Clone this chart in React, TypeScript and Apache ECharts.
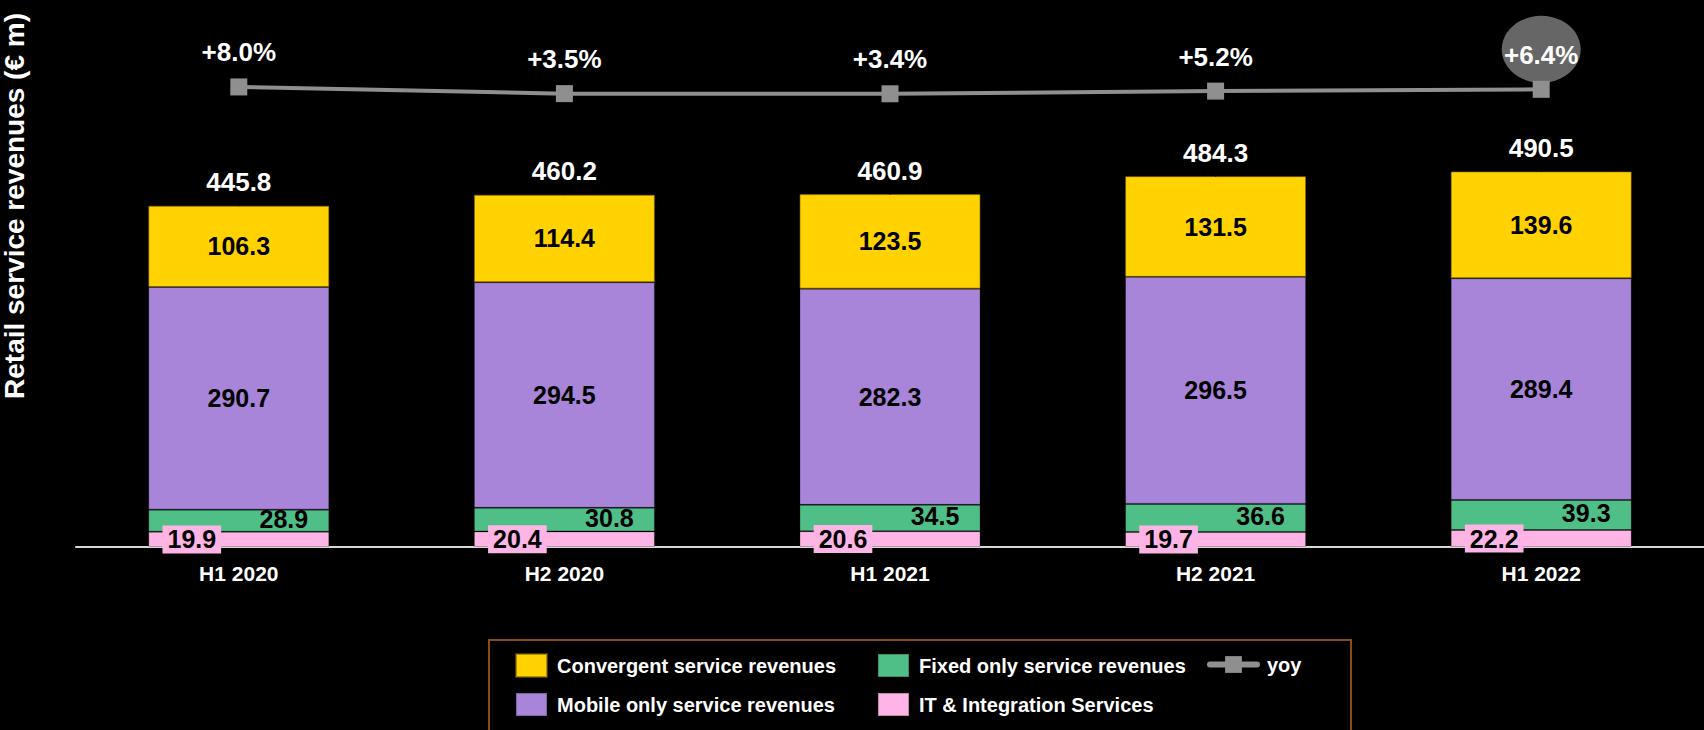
import React, { useEffect, useRef } from "react";
import * as echarts from "echarts";

const categories = ["H1 2020", "H2 2020", "H1 2021", "H2 2021", "H1 2022"];
const convergent = [106.3, 114.4, 123.5, 131.5, 139.6];
const mobileOnly = [290.7, 294.5, 282.3, 296.5, 289.4];
const fixedOnly = [28.9, 30.8, 34.5, 36.6, 39.3];
const itIntegration = [19.9, 20.4, 20.6, 19.7, 22.2];
const totals = [445.8, 460.2, 460.9, 484.3, 490.5];
const yoy = [8.0, 3.5, 3.4, 5.2, 6.4];
const yoyLabels = ["+8.0%", "+3.5%", "+3.4%", "+5.2%", "+6.4%"];
const highlightIndex = 4;

const FONT = "'Liberation Sans', Arial, Helvetica, sans-serif";

const segLabel = {
  show: true,
  position: "inside",
  color: "#000",
  fontSize: 25,
  fontWeight: "bold",
  fontFamily: FONT,
  formatter: (p: any) => Number(p.value).toFixed(1),
};

export default function App() {
  const ref = useRef<HTMLDivElement>(null);
  useEffect(() => {
    if (!ref.current) return;
    const chart = echarts.init(ref.current, undefined, { renderer: "svg" });
    const legendCommon = {
      orient: "vertical",
      itemWidth: 31,
      itemHeight: 23,
      itemGap: 14,
      padding: 0,
      icon: "rect",
      selectedMode: false,
      textStyle: {
        color: "#fff",
        fontSize: 20,
        fontWeight: "bold",
        fontFamily: FONT,
        lineHeight: 23,
        padding: [0, 0, 0, 5],
      },
    };
    const option: any = {
      animation: false,
      backgroundColor: "#000",
      textStyle: { fontFamily: FONT },
      grid: { left: 76, right: -4, top: 11, bottom: 183, containLabel: false },
      legend: [
        { ...legendCommon, left: 515, top: 653, data: ["Convergent service revenues", "Mobile only service revenues"] },
        { ...legendCommon, left: 877, top: 653, data: ["Fixed only service revenues", "IT & Integration Services"] },
        {
          ...legendCommon,
          icon: undefined,
          left: 1207,
          top: 653,
          itemWidth: 47,
          itemHeight: 21,
          lineStyle: { width: 6, cap: "round" },
          data: ["yoy"],
        },
      ],
      xAxis: {
        type: "category",
        data: categories,
        axisLine: { show: true, lineStyle: { color: "#d9d9d9", width: 2 } },
        axisTick: { show: false },
        axisLabel: { color: "#fff", fontSize: 21, fontWeight: "bold", margin: 16, fontFamily: FONT },
        splitLine: { show: false },
      },
      yAxis: [
        { type: "value", min: 0, max: 700, show: false, splitLine: { show: false } },
        { type: "value", min: -301, max: 59, show: false, splitLine: { show: false } },
      ],
      series: [
        {
          name: "IT & Integration Services",
          type: "bar",
          stack: "rev",
          barWidth: 181,
          data: itIntegration,
          itemStyle: { color: "#FFB4E6", borderColor: "rgba(0,0,0,0.25)", borderWidth: 1 },
          label: { ...segLabel, offset: [-47, 0], backgroundColor: "#FFB4E6", padding: [2, 5, 1, 5] },
          z: 2,
        },
        {
          name: "Fixed only service revenues",
          type: "bar",
          stack: "rev",
          barWidth: 181,
          data: fixedOnly,
          itemStyle: { color: "#50BE87", borderColor: "rgba(0,0,0,0.25)", borderWidth: 1 },
          label: { ...segLabel, offset: [45, -2] },
          z: 2,
        },
        {
          name: "Mobile only service revenues",
          type: "bar",
          stack: "rev",
          barWidth: 181,
          data: mobileOnly,
          itemStyle: { color: "#A885D8", borderColor: "rgba(0,0,0,0.25)", borderWidth: 1 },
          label: segLabel,
          z: 2,
        },
        {
          name: "Convergent service revenues",
          type: "bar",
          stack: "rev",
          barWidth: 181,
          data: convergent,
          itemStyle: { color: "#FFD200", borderColor: "rgba(120,95,0,0.6)", borderWidth: 1 },
          label: segLabel,
          z: 2,
        },
        {
          name: "total",
          type: "scatter",
          yAxisIndex: 0,
          data: totals,
          symbolSize: 1,
          itemStyle: { color: "#000", opacity: 1 },
          label: {
            show: true,
            position: "top",
            distance: 10,
            color: "#ffffff",
            opacity: 1,
            fontSize: 26,
            fontWeight: "bold",
            fontFamily: FONT,
            formatter: (p: any) => Number(p.value).toFixed(1),
          },
          emphasis: { disabled: true },
          silent: true,
          z: 3,
        },
        {
          name: "highlight",
          type: "scatter",
          yAxisIndex: 1,
          data: yoy.map((v, i) => (i === highlightIndex ? v : "-")),
          symbol: "circle",
          symbolSize: [79, 67],
          symbolOffset: [0, -40],
          itemStyle: { color: "#808080" },
          emphasis: { disabled: true },
          silent: true,
          z: 1,
        },
        {
          name: "yoy",
          type: "line",
          yAxisIndex: 1,
          data: yoy,
          symbol: "rect",
          symbolSize: 17,
          itemStyle: { color: "#8f8f8f" },
          lineStyle: { color: "#8f8f8f", width: 4 },
          label: {
            show: true,
            position: "top",
            distance: 13,
            color: "#fff",
            fontSize: 26,
            fontWeight: "bold",
            fontFamily: FONT,
            formatter: (p: any) => yoyLabels[p.dataIndex],
          },
          z: 4,
        },
      ],
      graphic: [
        {
          type: "rect",
          shape: { x: 489, y: 640, width: 862, height: 120 },
          style: { fill: "none", stroke: "#8a4a12", lineWidth: 2 },
          silent: true,
        },
        {
          type: "text",
          x: 14,
          y: 206,
          rotation: Math.PI / 2,
          style: {
            text: "Retail service revenues (€ m)",
            fill: "#fff",
            fontSize: 28,
            fontWeight: "bold",
            fontFamily: FONT,
            textAlign: "center",
            textVerticalAlign: "middle",
          },
          silent: true,
        },
      ],
    };
    chart.setOption(option);
    return () => chart.dispose();
  }, []);
  return (
    <div
      ref={ref}
      style={{ position: "fixed", left: 0, top: 0, width: 1704, height: 730, background: "#000" }}
    />
  );
}
